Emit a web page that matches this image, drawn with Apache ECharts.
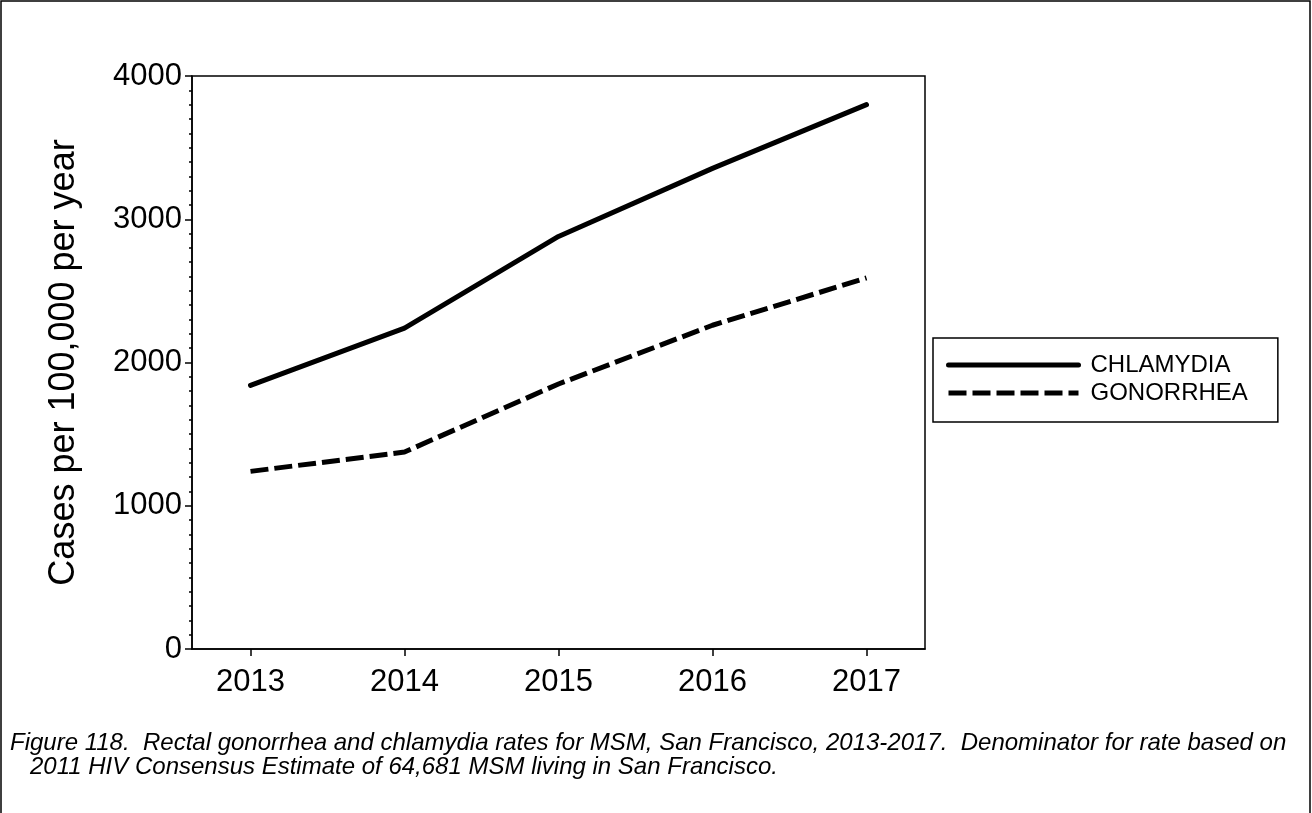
<!DOCTYPE html>
<html>
<head>
<meta charset="utf-8">
<script src="https://cdn.jsdelivr.net/npm/echarts@6/dist/echarts.min.js"></script>
<style>
html,body{margin:0;padding:0;background:#fff;}
#chart{width:1312px;height:813px;}
</style>
</head>
<body>
<div id="chart"></div>
<script>
var years = [2013, 2014, 2015, 2016, 2017];
var chlamydia = [1840, 2240, 2880, 3355, 3800];
var gonorrhea = [1240, 1375, 1850, 2260, 2590];
var yTicks = [0, 1000, 2000, 3000, 4000];
var seriesNames = ['CHLAMYDIA', 'GONORRHEA'];
var caption = ['Figure 118.  Rectal gonorrhea and chlamydia rates for MSM, San Francisco, 2013-2017.  Denominator for rate based on',
               '   2011 HIV Consensus Estimate of 64,681 MSM living in San Francisco.'];

function pairs(vals){ return years.map(function(y,i){ return [y, vals[i]]; }); }

var FONT = '"Liberation Sans", Arial, Helvetica, sans-serif';
var chart = echarts.init(document.getElementById('chart'), null, {renderer:'canvas'});
chart.setOption({
  backgroundColor: '#fff',
  animation: false,
  textStyle: {fontFamily: FONT, color: '#000'},
  grid: {left: 192, top: 76, right: 387, bottom: 164, show: true, borderColor: '#000', borderWidth: 1.5, backgroundColor: 'transparent'},
  xAxis: {
    type: 'value', min: 2012.62, max: 2017.38,
    splitLine: {show: false},
    axisLine: {lineStyle: {color: '#000', width: 1.5}},
    axisTick: {customValues: years, length: 7, inside: false, lineStyle: {color: '#000', width: 1.5}},
    axisLabel: {customValues: years, fontSize: 31, color: '#000', margin: 18, fontFamily: FONT,
      formatter: function(v){return String(v);}}
  },
  yAxis: {
    type: 'value', min: 0, max: 4000, interval: 1000,
    name: 'Cases per 100,000 per year', nameLocation: 'middle', nameGap: 110,
    nameTextStyle: {fontSize: 36, color: '#000', fontFamily: FONT},
    splitLine: {show: false},
    axisLine: {show: true, lineStyle: {color: '#000', width: 1.5}},
    axisTick: {show: true, length: 7, lineStyle: {color: '#000', width: 1.5}},
    minorTick: {show: true, splitNumber: 10, length: 3, lineStyle: {color: '#000', width: 1.5}},
    axisLabel: {fontSize: 31, color: '#000', margin: 10, fontFamily: FONT,
      customValues: yTicks, formatter: function(v){return String(v);}}
  },
  legend: {
    orient: 'vertical', left: 933, top: 338,
    data: seriesNames,
    borderColor: '#000', borderWidth: 1.5, padding: [15, 30, 17, 13],
    itemWidth: 130, itemHeight: 14, itemGap: 4,
    itemStyle: {opacity: 0, color: 'rgba(0,0,0,0)', borderWidth: 0},
    lineStyle: {width: 5},
    textStyle: {fontSize: 24, color: '#000', fontFamily: FONT, padding: [0,0,0,7]}
  },
  series: [
    {name: seriesNames[0], type: 'line', data: pairs(chlamydia), showSymbol: false, symbol: 'none',
     lineStyle: {color: '#000', width: 5, cap: 'round', join: 'round'}, itemStyle: {color: '#000'}},
    {name: seriesNames[1], type: 'line', data: pairs(gonorrhea), showSymbol: false, symbol: 'none',
     lineStyle: {color: '#000', width: 5, type: [18, 6], cap: 'butt', join: 'round'}, itemStyle: {color: '#000'}}
  ],
  graphic: [
    {type: 'rect', shape: {x: 1, y: 1, width: 1309, height: 820}, style: {fill: 'none', stroke: '#000', lineWidth: 1.5}, silent: true},
    {type: 'text', left: 10, top: 731, style: {text: caption.join('\n'), font: 'italic 24px ' + FONT, fill: '#000', lineHeight: 24}}
  ]
});
</script>
</body>
</html>
